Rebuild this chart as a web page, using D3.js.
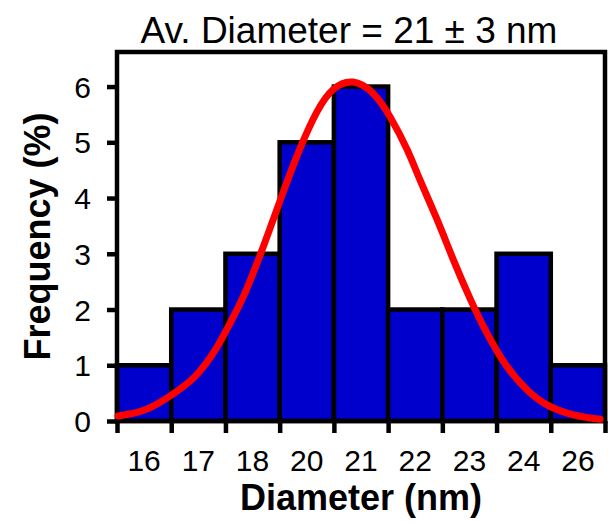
<!DOCTYPE html>
<html>
<head>
<meta charset="utf-8">
<script src="https://cdn.jsdelivr.net/npm/d3@7"></script>
<style>
  body { margin: 0; background: #fff; }
  text { font-family: "Liberation Sans", Arial, sans-serif; }
</style>
</head>
<body>
<script>
// histogram bins (nm) and their frequency (%)
var categories = ["16", "17", "18", "20", "21", "22", "23", "24", "26"];
var frequency = [1, 2, 3, 5, 6, 2, 2, 3, 1];
var yTicks = [0, 1, 2, 3, 4, 5, 6];

// gaussian fit, x in bin units (bar i spans i..i+1)
var fitX = [0.02, 0.52, 1.01, 1.44, 1.81, 2.05, 2.30, 2.55, 2.79, 3.07, 3.38, 3.69, 3.99, 4.35, 4.72, 5.04, 5.35, 5.59, 5.90, 6.20, 6.51, 6.82, 7.19, 7.56, 7.93, 8.42, 8.91];
var fitY = [0.09, 0.2, 0.47, 0.8, 1.27, 1.69, 2.17, 2.75, 3.37, 4.12, 4.9, 5.55, 5.95, 6.08, 5.88, 5.45, 4.87, 4.32, 3.62, 2.9, 2.2, 1.58, 0.98, 0.56, 0.29, 0.11, 0.03];

var width = 609, height = 524
var plotLeft = 117, plotRight = 605, plotTop = 52, plotBottom = 421

var svg = d3.select("body").append("svg")
	.attr("width", width)
	.attr("height", height)

var x = d3.scaleBand().domain(categories).range([plotLeft, plotRight]).padding(0)
var xBin = d3.scaleLinear().domain([0, categories.length]).range([plotLeft, plotRight])
var y = d3.scaleLinear().domain([0, 6.62]).range([plotBottom, plotTop])

// bars
svg.selectAll("rect.bar")
	.data(frequency)
	.enter().append("rect")
	.attr("class", "bar")
	.attr("x", function(d, i){ return x(categories[i]) })
	.attr("y", function(d){ return y(d) })
	.attr("width", x.bandwidth())
	.attr("height", function(d){ return y(0) - y(d) })
	.attr("fill", "#0000cc")
	.attr("stroke", "#000")
	.attr("stroke-width", 4.5)

// frame
svg.append("rect")
	.attr("x", plotLeft).attr("y", plotTop)
	.attr("width", plotRight - plotLeft).attr("height", plotBottom - plotTop)
	.attr("fill", "none")
	.attr("stroke", "#000")
	.attr("stroke-width", 4.5)

// y axis
var yAxis = svg.append("g")
	.attr("transform", "translate(" + plotLeft + ",0)")
	.call(d3.axisLeft(y).tickValues(yTicks).tickSize(10).tickPadding(16).tickFormat(d3.format("d")))
yAxis.select(".domain").remove()
yAxis.selectAll("line").attr("stroke-width", 4.5)
yAxis.selectAll("text").attr("font-size", 30).attr("fill", "#000").attr("dy", "0.35em")

// x axis: ticks at bin edges, labels at bin centres
var xEdges = svg.append("g")
	.attr("transform", "translate(0," + plotBottom + ")")
	.call(d3.axisBottom(xBin).tickValues(d3.range(categories.length + 1)).tickSize(12).tickFormat(""))
xEdges.select(".domain").remove()
xEdges.selectAll("line").attr("stroke-width", 4.5)

var xLabels = svg.append("g")
	.attr("transform", "translate(0," + plotBottom + ")")
	.call(d3.axisBottom(x).tickSize(0).tickPadding(29))
xLabels.select(".domain").remove()
xLabels.selectAll("text").attr("font-size", 30).attr("fill", "#000")

// fit curve
var line = d3.line()
	.x(function(d){ return xBin(d[0]) })
	.y(function(d){ return y(d[1]) })
	.curve(d3.curveNatural)

svg.append("path")
	.datum(d3.zip(fitX, fitY))
	.attr("d", line)
	.attr("fill", "none")
	.attr("stroke", "#ff0000")
	.attr("stroke-width", 7)
	.attr("stroke-linecap", "round")

// titles
svg.append("text")
	.attr("x", 349).attr("y", 43)
	.attr("text-anchor", "middle")
	.attr("font-size", 37)
	.text("Av. Diameter = 21 ± 3 nm")

svg.append("text")
	.attr("x", (plotLeft + plotRight) / 2).attr("y", 510)
	.attr("text-anchor", "middle")
	.attr("font-size", 36)
	.attr("font-weight", "bold")
	.text("Diameter (nm)")

svg.append("text")
	.attr("transform", "translate(50," + ((plotTop + plotBottom) / 2) + ") rotate(-90)")
	.attr("text-anchor", "middle")
	.attr("font-size", 36)
	.attr("font-weight", "bold")
	.text("Frequency (%)")
</script>
</body>
</html>
